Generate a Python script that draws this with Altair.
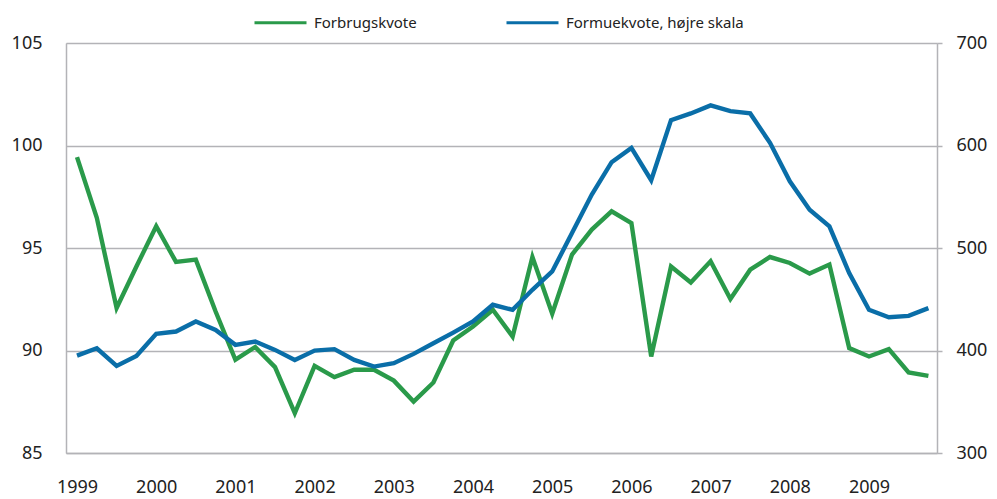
import altair as alt
import pandas as pd

years = list(range(1999, 2010))
quarter_index = list(range(44))

forbrugskvote = [
    99.43, 96.47, 92.07, 94.10, 96.06, 94.32, 94.43, 91.90, 89.55, 90.17, 89.19,
    86.94, 89.25, 88.70, 89.06, 89.06, 88.53, 87.51, 88.44, 90.49, 91.17, 91.99,
    90.68, 94.56, 91.79, 94.68, 95.90, 96.79, 96.22, 89.71, 94.10, 93.32, 94.35,
    92.51, 93.94, 94.56, 94.27, 93.75, 94.19, 90.12, 89.71, 90.07, 88.93, 88.76,
]
formuekvote = [
    395.0, 402.2, 385.0, 394.7, 416.2, 418.5, 428.3, 420.1, 405.5, 408.7, 400.6,
    390.8, 399.9, 401.3, 390.8, 384.3, 387.6, 396.7, 407.1, 417.5, 428.3, 444.6,
    439.7, 459.2, 477.1, 514.6, 552.1, 583.7, 597.7, 566.1, 624.7, 631.3, 639.1,
    633.5, 631.3, 602.6, 565.1, 537.4, 521.1, 475.6, 439.7, 432.5, 433.8, 441.3,
]

s1 = "Forbrugskvote"
s2 = "Formuekvote, højre skala"
left_ticks = [85, 90, 95, 100, 105]
right_ticks = [300, 400, 500, 600, 700]

df1 = pd.DataFrame({"q": quarter_index, "v": forbrugskvote, "serie": s1})
df2 = pd.DataFrame({"q": quarter_index, "v": formuekvote, "serie": s2})

FONT = "Noto Sans"
GRID = "#b3b3b7"
TXT = "#222222"

color = alt.Color(
    "serie:N",
    scale=alt.Scale(domain=[s1, s2], range=["#2a9a4a", "#0a6ea8"]),
    legend=alt.Legend(
        title=None, orient="none", direction="horizontal",
        legendX=187, legendY=-48, symbolType="stroke", symbolSize=2704,
        symbolStrokeWidth=3, labelFont=FONT, labelFontSize=15, labelColor=TXT,
        labelOffset=6, columnPadding=83, labelLimit=400,
    ),
)

xenc = alt.X(
    "q:Q",
    scale=alt.Scale(domain=[-0.556, 43.434], nice=False, zero=False),
    axis=alt.Axis(
        values=[0, 4, 8, 12, 16, 20, 24, 28, 32, 36, 40],
        labelExpr="1999 + datum.value / 4",
        title=None, grid=False, ticks=False, domain=True, domainColor=GRID,
        domainWidth=1.5, labelFont=FONT, labelFontSize=18, labelColor=TXT,
        labelPadding=25,
    ),
)

green = alt.Chart(df1).mark_line(strokeWidth=4.4).encode(
    x=xenc,
    y=alt.Y(
        "v:Q",
        scale=alt.Scale(domain=[85, 105], nice=False, zero=False),
        axis=alt.Axis(
            values=left_ticks, title=None, grid=True, gridColor=GRID,
            gridWidth=1.5, ticks=False, domain=True, domainColor=GRID,
            domainWidth=1.5, labelFont=FONT, labelFontSize=18, labelColor=TXT,
            labelPadding=24, orient="left",
        ),
    ),
    color=color,
)

blue = alt.Chart(df2).mark_line(strokeWidth=4.4).encode(
    x=xenc,
    y=alt.Y(
        "v:Q",
        scale=alt.Scale(domain=[300, 700], nice=False, zero=False),
        axis=alt.Axis(
            values=right_ticks, title=None, grid=False, ticks=True,
            tickSize=5, tickColor=GRID, tickWidth=1.5, domain=True,
            domainColor=GRID, domainWidth=1.5, labelFont=FONT,
            labelFontSize=18, labelColor=TXT, labelPadding=14, orient="right",
        ),
    ),
    color=color,
)

chart = (
    alt.layer(green, blue)
    .resolve_scale(y="independent")
    .properties(
        width=871, height=410,
        padding={"left": 58, "top": 35, "right": 52, "bottom": 46},
        autosize=alt.AutoSizeParams(type="none"),
    )
    .configure_view(stroke=None)
    .configure(background="white")
)

chart.save("out.html", embed_options={"renderer": "svg", "actions": False})
